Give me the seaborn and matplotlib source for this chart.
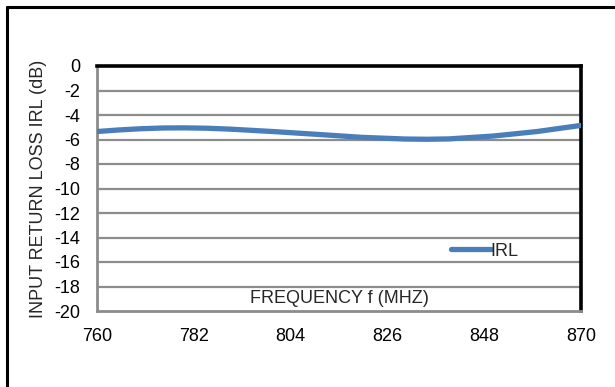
import matplotlib
matplotlib.use("Agg")
import matplotlib.pyplot as plt
from matplotlib.lines import Line2D
import seaborn as sns
import pandas as pd

# Measured input return loss across the band
freq_mhz = [760, 765, 770, 775, 780, 785, 790, 800, 810, 820, 830, 835, 840, 850, 860, 870]
irl_db = [-5.35, -5.22, -5.12, -5.06, -5.05, -5.08, -5.15, -5.35, -5.58, -5.82, -5.96, -5.98, -5.95, -5.72, -5.35, -4.85]

x_ticks = [760, 782, 804, 826, 848, 870]
y_ticks = [0, -2, -4, -6, -8, -10, -12, -14, -16, -18, -20]

df = pd.DataFrame({"freq": freq_mhz, "IRL": irl_db})

sns.set_theme(style="white")
plt.rcParams["font.family"] = ["Liberation Sans", "DejaVu Sans"]

FS = 13

fig = plt.figure(figsize=(6.15, 3.87), dpi=100)
fig.patch.set_facecolor("white")
fig.patch.set_edgecolor("white")
fig.patch.set_linewidth(0)
ax = fig.add_axes([97 / 615, 1 - 311 / 387, 484 / 615, 245 / 387])

# outer chart frame: left and top edges
fx, fy = 7 / 615, 1 - 7 / 387
fig.add_artist(Line2D([fx, fx], [-0.05, fy], transform=fig.transFigure,
                      color="black", linewidth=2.2))
fig.add_artist(Line2D([fx, 1.05], [fy, fy], transform=fig.transFigure,
                      color="black", linewidth=2.2))

for yv in y_ticks:
    if yv not in (0, -20):
        ax.axhline(yv, color="#8c8c8c", linewidth=1.6, zorder=1)

sns.lineplot(data=df, x="freq", y="IRL", ax=ax, color="#4a7ebb",
             linewidth=3.8, label="IRL", zorder=3,
             solid_capstyle="round")

ax.set_xlim(760, 870)
ax.set_ylim(-20, 0)
ax.set_xticks(x_ticks)
ax.set_yticks(y_ticks)
ax.set_xticklabels([str(v) for v in x_ticks])
ax.set_yticklabels([str(v) for v in y_ticks])
ax.tick_params(axis="both", length=0, labelsize=FS, colors="black")
ax.tick_params(axis="x", pad=12)
ax.tick_params(axis="y", pad=12)

ax.set_xlabel("")
ax.set_ylabel("INPUT RETURN LOSS IRL (dB)", fontsize=FS, labelpad=5)
ax.text(0.5, 12.5 / 245, "FREQUENCY f (MHZ)", transform=ax.transAxes,
        ha="center", va="center", fontsize=FS)

for side in ("left", "bottom"):
    ax.spines[side].set_color("#8c8c8c")
    ax.spines[side].set_linewidth(2.0)
for side in ("top", "right"):
    ax.spines[side].set_color("black")
    ax.spines[side].set_linewidth(2.6)

leg = ax.legend(loc="center left", bbox_to_anchor=(354 / 484, 1 - (251 - 66) / 245),
                frameon=False, fontsize=FS, handlelength=2.2, handletextpad=0.0,
                borderaxespad=0, borderpad=0)

fig.savefig("out.png", dpi=100, facecolor="white", edgecolor="none")
